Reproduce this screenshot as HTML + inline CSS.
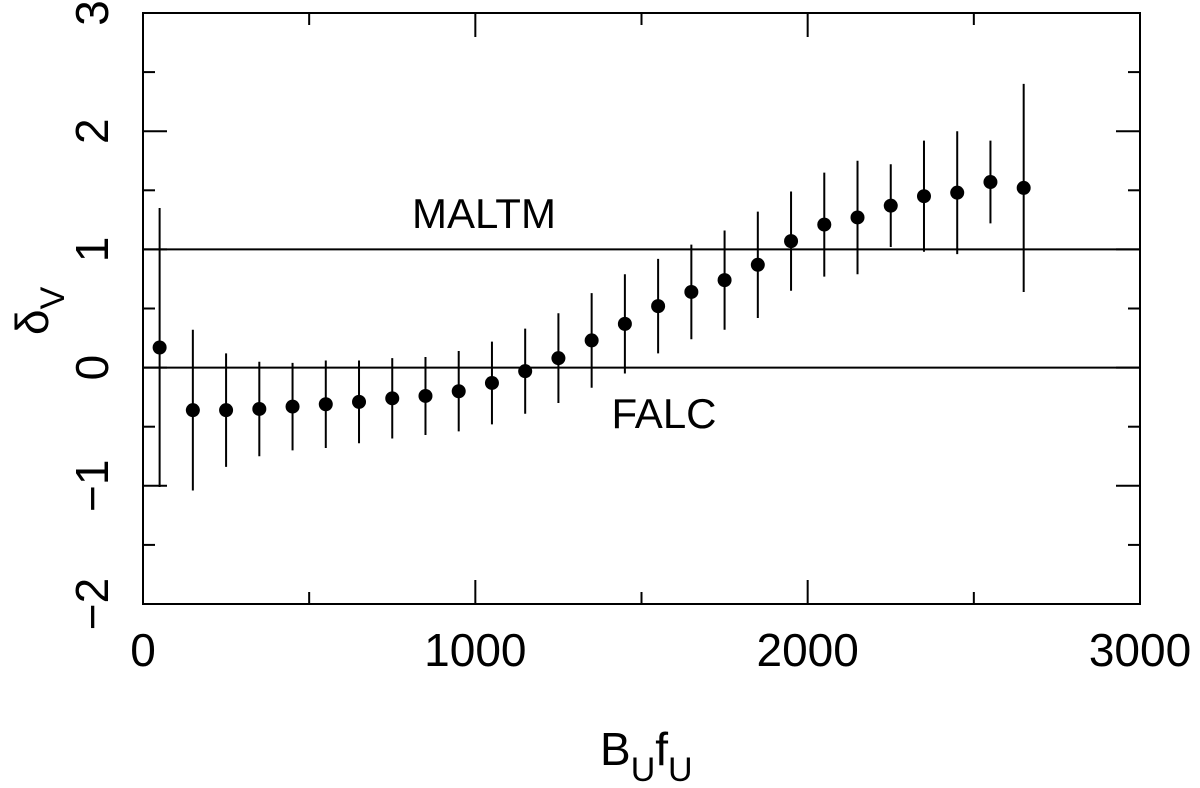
<!DOCTYPE html>
<html><head><meta charset="utf-8"><style>
html,body{margin:0;padding:0;background:#fff;}
svg{display:block;}
text{font-family:"Liberation Sans",sans-serif;fill:#000;}
</style></head><body>
<svg id="chart" width="1200" height="788" viewBox="0 0 1200 788">
<g id="axes"></g>
<g id="series"></g>
<text x="484" y="228" font-size="42" text-anchor="middle">MALTM</text>
<text x="664" y="428" font-size="42" text-anchor="middle">FALC</text>
<text x="600" y="765" font-size="46">B<tspan font-size="34" dy="16">U</tspan><tspan dy="-16">f</tspan><tspan font-size="34" dy="16">U</tspan></text>
<g transform="translate(48,335) rotate(-90)"><text x="0" y="0" font-size="46">δ<tspan font-size="34" dy="16">V</tspan></text></g>
</svg>
<script>
const xValues = [50,150,250,350,450,550,650,750,850,950,1050,1150,1250,1350,1450,1550,1650,1750,1850,1950,2050,2150,2250,2350,2450,2550,2650];
const yValues = [0.17,-0.36,-0.36,-0.35,-0.33,-0.31,-0.29,-0.26,-0.24,-0.20,-0.13,-0.03,0.08,0.23,0.37,0.52,0.64,0.74,0.87,1.07,1.21,1.27,1.37,1.45,1.48,1.57,1.52];
const yErrors = [1.18,0.68,0.48,0.40,0.37,0.37,0.35,0.34,0.33,0.34,0.35,0.36,0.38,0.40,0.42,0.40,0.40,0.42,0.45,0.42,0.44,0.48,0.35,0.47,0.52,0.35,0.88];
const xTickLabels = ["0","1000","2000","3000"];
const yTickLabels = ["3","2","1","0","−1","−2"];
const refLines = [1, 0];

const X0=143,X1=1140,Y0=13,Y1=604;
const xmin=0,xmax=3000,ymin=-2,ymax=3;
const sx=v=>X0+(v-xmin)/(xmax-xmin)*(X1-X0);
const sy=v=>Y1-(v-ymin)/(ymax-ymin)*(Y1-Y0);
const NS="http://www.w3.org/2000/svg";
function mk(tag,attrs,parent){const e=document.createElementNS(NS,tag);for(const k in attrs)e.setAttribute(k,attrs[k]);parent.appendChild(e);return e;}
const axes=document.getElementById('axes'), series=document.getElementById('series');
const frame=mk('rect',{x:X0,y:Y0,width:X1-X0,height:Y1-Y0,fill:'none',stroke:'#000','stroke-width':2},axes);


// x ticks
for(let v=0;v<=3000;v+=500){
  const major=v%1000===0, L=major?24:12, x=sx(v);
  const t1=mk('line',{x1:x,x2:x,y1:Y1,y2:Y1-L,stroke:'#000','stroke-width':2},axes);
  
  
  const t2=mk('line',{x1:x,x2:x,y1:Y0,y2:Y0+L,stroke:'#000','stroke-width':2},axes);
  
  
}
xTickLabels.forEach((s)=>{
  const t=mk('text',{x:sx(parseFloat(s)),y:666,'font-size':46,'text-anchor':'middle'},axes);
  t.textContent=s;
  
  
});
// y ticks
for(let v=-2;v<=3;v+=0.5){
  const major=Number.isInteger(v), L=major?24:12, y=sy(v);
  const t1=mk('line',{x1:X0,x2:X0+L,y1:y,y2:y,stroke:'#000','stroke-width':2},axes);
  
  
  const t2=mk('line',{x1:X1,x2:X1-L,y1:y,y2:y,stroke:'#000','stroke-width':2},axes);
  
  
}
yTickLabels.forEach((s)=>{
  const v=parseFloat(s.replace('−','-'));
  const g=mk('g',{transform:`translate(108,${sy(v)}) rotate(-90)`},axes);
  
  
  const t=mk('text',{x:0,y:0,'font-size':46,'text-anchor':'middle'},g);
  t.textContent=s;
});
refLines.forEach(v=>{
  const l=mk('line',{x1:X0,x2:X1,y1:sy(v),y2:sy(v),stroke:'#000','stroke-width':2},axes);
  
  
});
xValues.forEach((xv,i)=>{
  const x=sx(xv),y=yValues[i],e=yErrors[i];
  const bar=mk('line',{x1:x,x2:x,y1:sy(y+e),y2:sy(y-e),stroke:'#000','stroke-width':2},series);
  
  
  const c=mk('circle',{cx:x,cy:sy(y),r:7,fill:'#000'},series);
  
  
});
</script>
</body></html>
